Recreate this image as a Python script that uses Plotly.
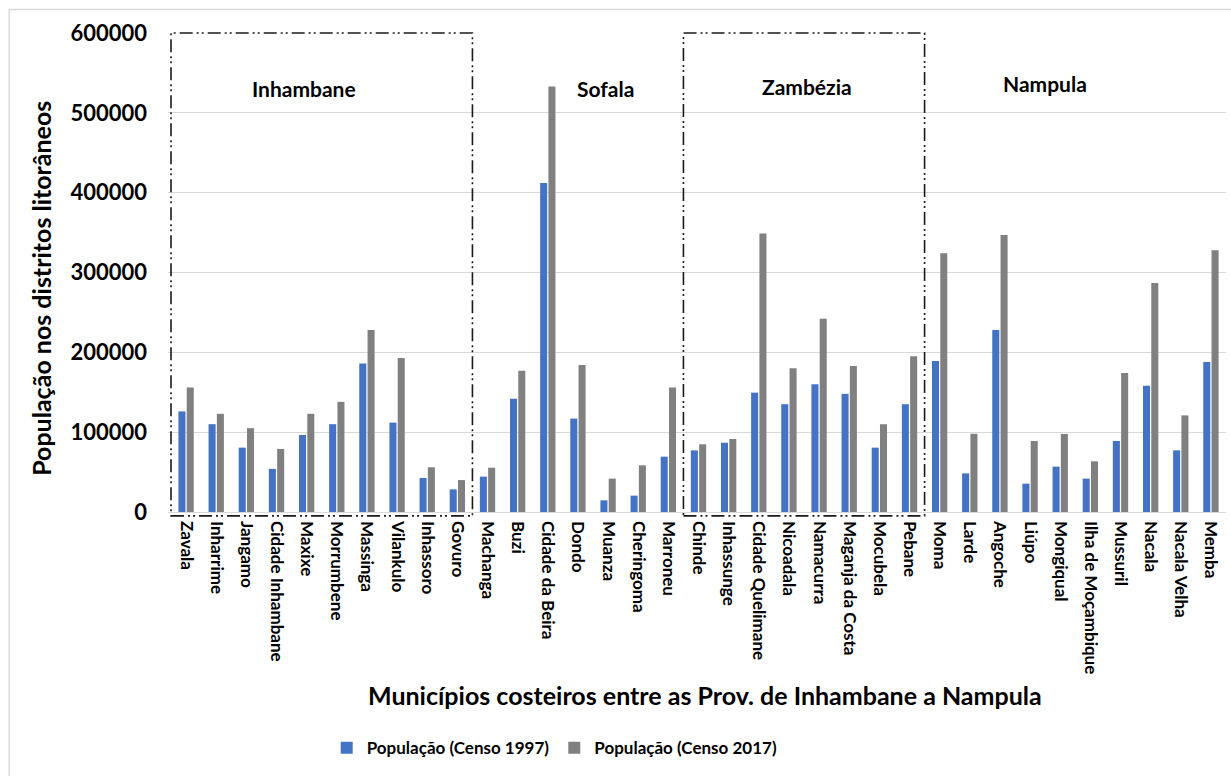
import plotly.graph_objects as go

# Coastal districts, grouped by province (south to north)
municipios = [
    "Zavala", "Inharrime", "Jangamo", "Cidade Inhambane", "Maxixe", "Morrumbene",
    "Massinga", "Vilankulo", "Inhassoro", "Govuro",
    "Machanga", "Buzi", "Cidade da Beira", "Dondo", "Muanza", "Cheringoma", "Marroneu",
    "Chinde", "Inhassunge", "Cidade Quelimane", "Nicoadala", "Namacurra",
    "Maganja da Costa", "Mocubela", "Pebane",
    "Moma", "Larde", "Angoche", "Liúpo", "Mongiqual", "Ilha de Moçambique",
    "Mussuril", "Nacala", "Nacala Velha", "Memba",
]

pop_1997 = [
    126000, 110000, 80600, 54000, 96500, 110000, 186000, 112000, 42600, 28400,
    44300, 142000, 412000, 117000, 14600, 20500, 69300,
    77200, 86800, 149500, 135000, 160000, 148000, 80600, 135000,
    189000, 48400, 228000, 35500, 56800, 41800, 89000, 158000, 77200, 188000,
]

pop_2017 = [
    156000, 123000, 105000, 79000, 123000, 138000, 228000, 193000, 56000, 40000,
    55500, 177000, 533000, 184000, 41800, 58500, 156000,
    84800, 91400, 349000, 180000, 242000, 183000, 110000, 195000,
    324000, 98000, 347000, 89000, 97700, 63500, 174000, 287000, 121000, 328000,
]

provincias = ["Inhambane", "Sofala", "Zambézia", "Nampula"]
prov_label_x = [3.9, 13.9, 20.6, 28.5]
prov_label_y = [530000, 530000, 533000, 537000]

# Provinces framed with a dash-dot-dot box (first/last category index)
boxed_spans = [(0, 9), (17, 24)]

y_ticks = [0, 100000, 200000, 300000, 400000, 500000, 600000]

FONT = "Lato"
BLUE = "#4472C4"
GRAY = "#808080"

fig = go.Figure()
fig.add_trace(go.Bar(x=municipios, y=pop_1997, name="<b>População (Censo 1997)</b>",
                     marker=dict(color=BLUE, line=dict(width=0))))
fig.add_trace(go.Bar(x=municipios, y=pop_2017, name="<b>População (Censo 2017)</b>",
                     marker=dict(color=GRAY, line=dict(width=0))))

shapes = []
for a, b in boxed_spans:
    shapes.append(dict(type="rect", xref="x", yref="paper",
                       x0=a - 0.5, x1=b + 0.5, y0=-0.008, y1=1.0,
                       line=dict(color="#1a1a1a", width=1.6,
                                 dash="13px,4px,2px,3px,2px,4px"),
                       fillcolor="rgba(0,0,0,0)", layer="above"))
# chart-area outline
shapes.append(dict(type="rect", xref="paper", yref="paper",
                   x0=-0.150, x1=1.2, y0=-0.7, y1=1.049,
                   line=dict(color="#d9d9d9", width=1.5),
                   fillcolor="rgba(0,0,0,0)", layer="below"))

annotations = []
for name, px, py in zip(provincias, prov_label_x, prov_label_y):
    annotations.append(dict(x=px, y=py, xref="x", yref="y", text=f"<b>{name}</b>",
                            showarrow=False, font=dict(family=FONT, size=21, color="black")))
annotations.append(dict(x=0.508, y=-0.382, xref="paper", yref="paper",
                        text="<b>Municípios costeiros entre as Prov. de Inhambane a Nampula</b>",
                        showarrow=False, xanchor="center", yanchor="middle",
                        font=dict(family=FONT, size=25, color="black")))
annotations.append(dict(x=-0.120, y=0.466, xref="paper", yref="paper",
                        text="<b>População nos distritos litorâneos</b>", textangle=-90,
                        showarrow=False, xanchor="center", yanchor="middle",
                        font=dict(family=FONT, size=25, color="black")))

fig.update_layout(
    width=1231, height=776,
    margin=dict(l=168, r=5, t=33, b=264, autoexpand=False),
    paper_bgcolor="white", plot_bgcolor="white",
    barmode="group", bargap=0.45, bargroupgap=0.15,
    font=dict(family=FONT, color="black"),
    shapes=shapes, annotations=annotations,
    showlegend=True,
    legend=dict(orientation="h", x=0.150, y=-0.493, xanchor="left", yanchor="middle",
                font=dict(family=FONT, size=17, color="black"),
                itemwidth=30, tracegroupgap=0, bgcolor="rgba(0,0,0,0)"),
)

fig.update_xaxes(
    type="category", range=[-0.6, 34.5], tickangle=90,
    tickvals=municipios, ticktext=[f"<b>{m}</b>" for m in municipios],
    tickfont=dict(family=FONT, size=17, color="black"),
    showgrid=False, showline=False, ticks="", ticklabelstandoff=8,
)
fig.update_yaxes(
    range=[0, 600000], tickvals=y_ticks, ticktext=[f"<b>{v}</b>" for v in y_ticks],
    tickfont=dict(family=FONT, size=22, color="black"),
    showgrid=True, gridcolor="#d9d9d9", gridwidth=1,
    zeroline=True, zerolinecolor="#d9d9d9", zerolinewidth=1,
    showline=False, ticks="", ticklabelstandoff=20,
)

fig.write_html("out.html")
